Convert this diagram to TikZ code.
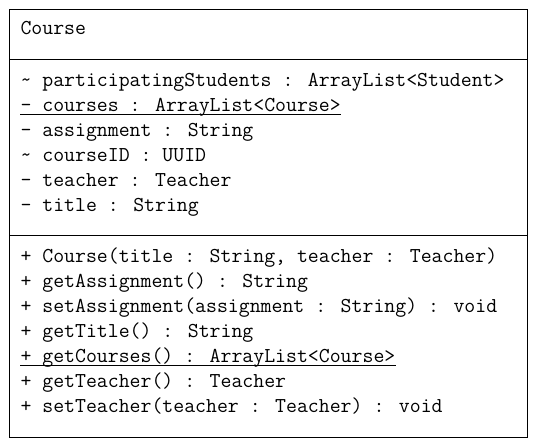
\documentclass[tikz,border=0pt]{standalone}
\usepackage{fontspec}
\usepackage{tikz}
\usetikzlibrary{positioning}
\tikzstyle{classbox} = [draw, anchor=north west, inner sep=0pt, minimum width=518pt, minimum height=428pt]
\tikzstyle{member} = [anchor=base west, inner sep=0pt, font=\ttfamily\fontsize{21.2}{24}\selectfont]
\tikzstyle{static} = [line width=1pt]

\begin{document}
\begin{tikzpicture}[x=1pt, y=-1pt, line width=1pt]
        \useasboundingbox (0,0) rectangle (535,442);
        \node (box) [classbox] at (9,9) {};
        \draw (9,59) -- (527,59);
        \draw (9,235) -- (527,235);

        % class name
        \node (name) [member] at (20,34) {Course};

        % attributes
        \node (students) [member] at (20,86) {\textasciitilde{} participatingStudents : ArrayList<Student>};
        \node (courses) [member] at (20,111) {- courses : ArrayList<Course>};
        \node (assignment) [member] at (20,136) {- assignment : String};
        \node (courseid) [member] at (20,161) {\textasciitilde{} courseID : UUID};
        \node (teacher) [member] at (20,186) {- teacher : Teacher};
        \node (title) [member] at (20,211) {- title : String};

        % operations
        \node (ctor) [member] at (20,262) {+ Course(title : String, teacher : Teacher)};
        \node (getassign) [member] at (20,287) {+ getAssignment() : String};
        \node (setassign) [member] at (20,312) {+ setAssignment(assignment : String) : void};
        \node (gettitle) [member] at (20,337) {+ getTitle() : String};
        \node (getcourses) [member] at (20,362) {+ getCourses() : ArrayList<Course>};
        \node (getteacher) [member] at (20,387) {+ getTeacher() : Teacher};
        \node (setteacher) [member] at (20,412) {+ setTeacher(teacher : Teacher) : void};

        % static members are underlined
        \draw [static] ([yshift=-3pt]courses.base west) -- ([yshift=-3pt]courses.base east);
        \draw [static] ([yshift=-3pt]getcourses.base west) -- ([yshift=-3pt]getcourses.base east);
\end{tikzpicture}
\end{document}
